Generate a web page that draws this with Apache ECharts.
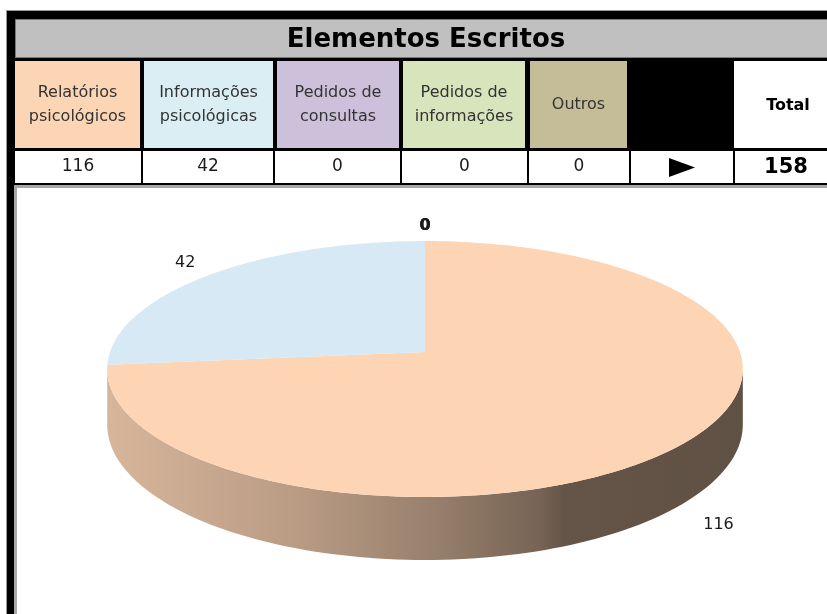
<!DOCTYPE html>
<html><head><meta charset="utf-8">
<script src="https://cdn.jsdelivr.net/npm/echarts@6/dist/echarts.min.js"></script>
<style>html,body{margin:0;padding:0;background:#fff}#c{width:827px;height:614px}</style>
</head><body><div id="c"></div>
<script>
// ---- data ----
const title = 'Elementos Escritos';
const categories = ['Relatórios psicológicos', 'Informações psicológicas', 'Pedidos de consultas', 'Pedidos de informações', 'Outros'];
const headerLabels = ['Relatórios\npsicológicos', 'Informações\npsicológicas', 'Pedidos de\nconsultas', 'Pedidos de\ninformações', 'Outros'];
const values = [116, 42, 0, 0, 0];
const totalLabel = 'Total';
const headerColors = ['#FCD5B4', '#DAEEF3', '#CCC0DA', '#D8E4BC', '#C4BD97'];
const sliceColors = ['#FDD5B5', '#D6E9F5', '#CCC0DA', '#D8E4BC', '#C4BD97'];

// ---- layout ----
const total = values.reduce((a, b) => a + b, 0);
const cum = [];
values.reduce((acc, v, i) => { cum[i] = acc; return acc + v; }, 0);

const PIE = { cx: 425, cy: 352, rx: 315, ry: 125.7, k: 0.133, h: 54.6 };
const phiR = Math.acos(-PIE.k) * 180 / Math.PI;   // right silhouette
const phiL = 360 - phiR;                          // left silhouette

function project(phiDeg, r, drop) {
  const a = phiDeg * Math.PI / 180;
  const u = Math.sin(a) * r, v = -Math.cos(a) * r;
  const s = 1 / (1 - PIE.k * v);
  return [PIE.cx + PIE.rx * u * s, PIE.cy + PIE.ry * v * s + (drop ? PIE.h * s : 0)];
}
function shade(hex, f) {
  const n = parseInt(hex.slice(1), 16);
  const r = Math.round(((n >> 16) & 255) * f), g = Math.round(((n >> 8) & 255) * f), b = Math.round((n & 255) * f);
  return 'rgb(' + r + ',' + g + ',' + b + ')';
}

function renderItem(params, api) {
  const i = params.dataIndex;
  const val = api.value(1);
  const start = cum[i] / total * 360;
  const end = (cum[i] + val) / total * 360;
  const color = sliceColors[i];
  const children = [];
  if (end > start) {
    const n = Math.max(2, Math.ceil((end - start) / 1.5));
    const pts = [project(0, 0, false)];
    for (let j = 0; j <= n; j++) pts.push(project(start + (end - start) * j / n, 1, false));
    children.push({ type: 'polygon', shape: { points: pts }, style: { fill: color }, z2: 10 });
    const ws = Math.max(start, phiR), we = Math.min(end, phiL);
    if (we > ws) {
      const m = Math.max(2, Math.ceil((we - ws) / 1.5));
      const top = [], bot = [];
      for (let j = 0; j <= m; j++) {
        const p = ws + (we - ws) * j / m;
        top.push(project(p, 1, false));
        bot.push(project(p, 1, true));
      }
      const wall = top.concat(bot.reverse());
      const grad = new echarts.graphic.LinearGradient(PIE.cx + PIE.rx, 0, PIE.cx - PIE.rx, 0, [
        { offset: 0, color: shade(color, 0.38) },
        { offset: 0.28, color: shade(color, 0.40) },
        { offset: 0.32, color: shade(color, 0.47) },
        { offset: 0.5, color: shade(color, 0.61) },
        { offset: 0.7, color: shade(color, 0.73) },
        { offset: 1, color: shade(color, 0.85) }
      ], true);
      children.push({ type: 'polygon', shape: { points: wall }, style: { fill: grad }, z2: 5 });
    }
  }
  const mid = (start + end) / 2;
  const L = 1.13;
  const vv = -Math.cos(mid * Math.PI / 180) * L;
  const lp = project(mid, L, vv > 0);
  children.push({
    type: 'text', x: lp[0], y: lp[1] + (vv > 0 ? 6 : -3), z2: 20,
    style: { text: String(val), align: 'center', verticalAlign: 'middle', fontSize: 16, fontWeight: val === 0 ? 'bold' : 'normal', fontFamily: 'DejaVu Sans', fill: '#1a1a1a' }
  });
  return { type: 'group', children: children };
}

// ---- table graphics ----
const headerX = [[15, 140], [144, 273], [277, 399], [403, 525], [530, 627]];
const totalX = [734, 828];
const valueX = [[15, 141], [143, 273], [275, 400], [402, 527], [529, 629], [631, 733], [735, 828]];
const g = [];
g.push({ type: 'rect', shape: { x: 6, y: 10, width: 822, height: 605 }, style: { fill: '#9a9a9a' } });
g.push({ type: 'rect', shape: { x: 7, y: 11, width: 821, height: 604 }, style: { fill: '#000' } });
g.push({ type: 'rect', shape: { x: 15.5, y: 19.5, width: 813, height: 38 }, style: { fill: '#C0C0C0', stroke: '#7a7a7a', lineWidth: 1 } });
g.push({ type: 'text', x: 426, y: 40, style: { text: title, align: 'center', verticalAlign: 'middle', fontSize: 26, fontWeight: 'bold', fontFamily: 'DejaVu Sans', fill: '#000' } });
headerLabels.forEach((t, i) => {
  const [a, b] = headerX[i];
  g.push({ type: 'rect', shape: { x: a, y: 61, width: b - a, height: 87 }, style: { fill: headerColors[i] } });
  g.push({ type: 'text', x: (a + b) / 2, y: 105, style: { text: t, align: 'center', verticalAlign: 'middle', fontSize: 16, lineHeight: 24, fontFamily: 'DejaVu Sans', fill: '#333' } });
});
g.push({ type: 'rect', shape: { x: totalX[0], y: 61, width: totalX[1] - totalX[0], height: 87 }, style: { fill: '#fff' } });
g.push({ type: 'text', x: 788, y: 106, style: { text: totalLabel, align: 'center', verticalAlign: 'middle', fontSize: 16, fontWeight: 'bold', fontFamily: 'DejaVu Sans', fill: '#000' } });
valueX.forEach(([a, b], i) => {
  g.push({ type: 'rect', shape: { x: a, y: 151, width: b - a, height: 32 }, style: { fill: '#fff' } });
  if (i < values.length) {
    g.push({ type: 'text', x: (a + b) / 2, y: 167, style: { text: String(values[i]), align: 'center', verticalAlign: 'middle', fontSize: 17, fontFamily: 'DejaVu Sans', fill: '#1a1a1a' } });
  }
});
g.push({ type: 'polygon', shape: { points: [[669, 158], [669, 177], [695, 167.5]] }, style: { fill: '#000' } });
g.push({ type: 'text', x: 786, y: 168, style: { text: String(total), align: 'center', verticalAlign: 'middle', fontSize: 21, fontWeight: 'bold', fontFamily: 'DejaVu Sans', fill: '#000' } });
g.push({ type: 'rect', shape: { x: 14, y: 185, width: 814, height: 430 }, style: { fill: '#a8a8a8' } });
g.push({ type: 'rect', shape: { x: 17, y: 188, width: 811, height: 427 }, style: { fill: '#fff' } });

const chart = echarts.init(document.getElementById('c'), null, { renderer: 'canvas' });
chart.setOption({
  backgroundColor: '#fff',
  animation: false,
  graphic: { elements: g },
  series: [{
    type: 'custom',
    coordinateSystem: 'none',
    z: 5,
    renderItem: renderItem,
    data: categories.map((c, i) => ({ name: c, value: [i, values[i]] }))
  }]
});
</script></body></html>
